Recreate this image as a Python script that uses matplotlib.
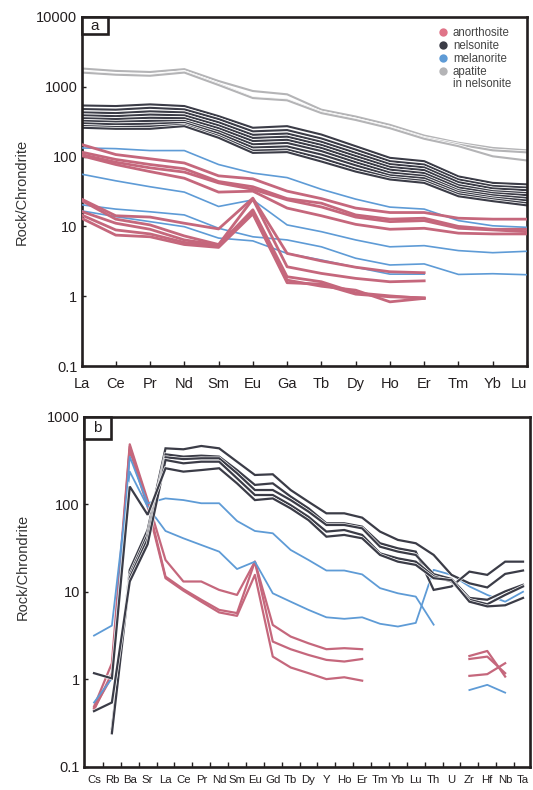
import numpy as np
import matplotlib
matplotlib.use('Agg')
import matplotlib.pyplot as plt
import matplotlib.patheffects as pe
from matplotlib.lines import Line2D
from matplotlib.patches import Rectangle

plt.rcParams['font.family'] = ['Liberation Sans', 'DejaVu Sans']

nan = np.nan

# ---------------- panel a : REE ----------------
ree_a = ['La', 'Ce', 'Pr', 'Nd', 'Sm', 'Eu', 'Ga', 'Tb', 'Dy', 'Ho', 'Er', 'Tm', 'Yb', 'Lu']

apatite_a = [
    [1830, 1690, 1630, 1790, 1210, 870, 780, 470, 375, 285, 200, 158, 133, 123],
    [1630, 1510, 1460, 1630, 1090, 700, 650, 430, 340, 260, 185, 149, 123, 115],
    [1600, 1490, 1440, 1600, 1060, 690, 640, 420, 335, 255, 180, 141, 101, 88],
]

nelsonite_a = [
    [540, 530, 560, 530, 380, 259, 273, 207, 141, 96, 86, 52, 42, 40],
    [480, 470, 500, 475, 345, 230, 240, 182, 126, 86, 77, 47, 38, 36],
    [430, 420, 445, 430, 310, 205, 214, 163, 113, 78, 70, 43, 35, 33],
    [390, 380, 400, 390, 280, 185, 193, 147, 102, 71, 64, 39, 32, 30],
    [355, 345, 360, 355, 255, 167, 174, 133, 92, 65, 58, 36, 30, 28],
    [325, 315, 325, 325, 232, 150, 157, 120, 83, 59, 53, 33, 28, 25.5],
    [300, 290, 295, 305, 215, 135, 140, 107, 75, 54, 49, 31, 26, 23.5],
    [275, 265, 270, 285, 198, 122, 126, 95, 67, 50, 45, 29, 24.5, 21.5],
    [259, 250, 250, 273, 186, 113, 116, 85, 61, 47, 42, 27, 23, 20],
]

melanorite_a = [
    [133, 130, 122, 122, 77, 58, 50, 34, 24.6, 18.9, 17.7, 12.1, 10.2, 9.7],
    [56, 45, 37, 31, 19.3, 24, 10.5, 8.4, 6.4, 5.1, 5.3, 4.5, 4.2, 4.4],
    [20.4, 17.7, 16.2, 14.6, 9.4, 7.1, 6.4, 5.1, 3.5, 2.8, 2.9, 2.05, 2.1, 2.03],
    [16.7, 13.8, 11.7, 9.9, 6.8, 6.2, 4.1, 3.3, 2.6, 2.07, 2.07, nan, nan, nan],
]

anorthosite_a = [
    [149, 107, 93, 81, 53, 48, 32, 25, 18.3, 15.8, 15.8, 13.1, 12.7, 12.7],
    [116, 91, 77, 67, 44, 37, 25, 21.5, 14.6, 12.7, 13.1, 10, 9.1, 9.1],
    [107, 83, 69, 60, 42, 34, 24, 19, 13.6, 11.7, 12.1, 9.4, 8.9, 8.4],
    [103, 77, 61, 49, 31, 32, 18.3, 14.2, 10.7, 9.1, 9.4, 8.0, 7.8, 7.8],
    [24.6, 14.2, 13.6, 11.1, 9.2, 25.4, 4.1, 3.2, 2.6, 2.24, 2.17, nan, nan, nan],
    [23.5, 12.7, 10.5, 7.3, 5.5, 24.6, 2.64, 2.12, 1.80, 1.61, 1.66, nan, nan, nan],
    [16.4, 11.1, 9.1, 6.4, 5.4, 17.3, 1.90, 1.61, 1.12, 1.01, 0.93, nan, nan, nan],
    [14.6, 8.9, 7.8, 5.9, 5.2, 15.8, 1.70, 1.39, 1.22, 0.83, 0.93, nan, nan, nan],
    [13.1, 7.5, 7.1, 5.5, 5.0, 15.1, 1.56, 1.49, 1.07, 0.98, 0.95, nan, nan, nan],
]

# ---------------- panel b : trace elements ----------------
elem_b = ['Cs', 'Rb', 'Ba', 'Sr', 'La', 'Ce', 'Pr', 'Nd', 'Sm', 'Eu', 'Gd', 'Tb', 'Dy',
          'Y', 'Ho', 'Er', 'Tm', 'Yb', 'Lu', 'Th', 'U', 'Zr', 'Hf', 'Nb', 'Ta']

anorthosite_b = [
    [0.485, 1.52, 487, 112, 23.1, 13.1, 13.1, 10.5, 9.2, 22.1, 4.17, 3.07, 2.57, 2.20, 2.26, 2.20,
     nan, nan, nan, nan, nan, 1.84, 2.10, 1.07, nan],
    [0.444, 1.17, 458, 103, 14.9, 10.7, 8.1, 6.2, 5.7, 22.1, 2.69, 2.20, 1.89, 1.66, 1.59, 1.70,
     nan, nan, nan, nan, nan, 1.70, 1.81, 1.17, nan],
    [0.465, 1.07, 419, 94, 14.3, 10.3, 7.7, 5.8, 5.3, 15.6, 1.81, 1.36, 1.17, 1.00, 1.05, 0.96,
     nan, nan, nan, nan, nan, 1.09, 1.14, 1.52, nan],
]

melanorite_b = [
    [0.54, 1.02, 352, 103, 117, 112, 103, 103, 64.6, 49.6, 46.7, 30.1, 23.1, 17.5, 17.5, 15.8,
     11.0, 9.6, 8.8, 4.2, nan, 0.75, 0.86, 0.70, nan],
    [3.15, 4.1, 237, 94, 49.6, 40.9, 34.3, 28.8, 18.2, 22.1, 9.6, 7.7, 6.2, 5.1, 4.9, 5.1,
     4.3, 4.0, 4.4, 17.8, 15.6, 11.5, 9.2, 7.7, 10.0],
]

nelsonite_b = [
    [nan, 0.25, 17.8, 51, 438, 427, 466, 438, 308, 217, 221, 146, 107, 79, 79, 70.5,
     48.8, 39.2, 35.9, 26.4, 15.6, 12.5, 11.2, 16.0, 17.5],
    [nan, 0.27, 15.6, 45, 374, 352, 361, 352, 247, 167, 174, 123, 90, 60.7, 60.7, 55.6,
     35.9, 31.4, 28.8, 10.5, 11.5, 17.0, 15.6, 22.1, 22.1],
    [nan, 0.24, 14.5, 40, 346, 330, 337, 337, 227, 146, 146, 112, 82.6, 58.1, 58.1, 53.2,
     32.8, 28.8, 26.4, 15.9, 14.0, 8.5, 8.1, 10.1, 12.0],
    [0.43, 0.54, 13.1, 35, 322, 295, 308, 308, 199, 128, 128, 98, 72, 48.8, 50.9, 44.7,
     27.5, 24.1, 22.1, 15.0, 13.1, 8.1, 7.2, 9.2, 11.5],
    [1.17, 1.02, 160, 76, 259, 237, 247, 259, 174, 112, 117, 90, 66, 42.7, 44.7, 40.9,
     26.4, 22.1, 20.3, 14.3, 13.6, 7.7, 6.8, 7.0, 8.5],
]

tick_vals_a = [0.1, 1, 10, 100, 1000, 10000]
tick_labs_a = ['0.1', '1', '10', '100', '1000', '10000']
tick_vals_b = [0.1, 1, 10, 100, 1000]
tick_labs_b = ['0.1', '1', '10', '100', '1000']

legend_names = ['anorthosite', 'nelsonite', 'melanorite', 'apatite', 'in nelsonite']

# ---------------- styles ----------------
C_RED = '#c5677c'
C_RED_LEG = '#e07488'
C_BLK = '#3b3c47'
C_BLUE = '#5e9bd6'
C_GRAY = '#b4b4b6'
C_SPINE = '#231f20'

W, H = 533, 790
fig = plt.figure(figsize=(W / 100, H / 100), dpi=100)

def px_axes(l, t, r, b):
    return fig.add_axes([l / W, 1 - b / H, (r - l) / W, (b - t) / H])

ax1 = px_axes(81.5, 17, 527, 366)
ax2 = px_axes(84, 417, 530, 766.5)

white_edge = [pe.Stroke(linewidth=2.6, foreground='white'), pe.Normal()]

xa = np.arange(len(ree_a))
for s in apatite_a:
    ax1.plot(xa, s, color=C_GRAY, lw=1.5, solid_joinstyle='miter', path_effects=white_edge, zorder=2)
for s in nelsonite_a:
    ax1.plot(xa, s, color=C_BLK, lw=1.5, solid_joinstyle='miter', path_effects=white_edge, zorder=2)
for s in melanorite_a:
    ax1.plot(xa, s, color=C_BLUE, lw=1.2, zorder=3)
for s in anorthosite_a:
    ax1.plot(xa, s, color=C_RED, lw=2.0, zorder=4)

xb = np.arange(len(elem_b))
for s in anorthosite_b:
    ax2.plot(xb, s, color=C_RED, lw=1.6, zorder=2)
for s in melanorite_b:
    ax2.plot(xb, s, color=C_BLUE, lw=1.3, zorder=3)
for s in nelsonite_b:
    ax2.plot(xb, s, color=C_BLK, lw=1.6, solid_joinstyle='miter',
             path_effects=[pe.Stroke(linewidth=2.5, foreground='white'), pe.Normal()], zorder=4)

for ax in (ax1, ax2):
    ax.set_yscale('log')
    for sp in ax.spines.values():
        sp.set_linewidth(1.9)
        sp.set_color(C_SPINE)
    ax.minorticks_off()

ax1.set_xlim(0, len(ree_a) - 1)
ax1.set_ylim(0.1, 10000)
ax1.set_yticks(tick_vals_a)
ax1.set_yticklabels(tick_labs_a)
ax1.set_xticks(xa)
ax1.set_xticklabels(ree_a)
ax1.tick_params(axis='x', direction='in', length=3.5, width=1, pad=8, labelsize=10.5, colors=C_SPINE)
ax1.tick_params(axis='y', direction='in', length=3, width=1, pad=3, labelsize=10.5, colors=C_SPINE)
ax1.get_xticklabels()[-1].set_horizontalalignment('right')

ax2.set_xlim(-0.56, len(elem_b) - 1 + 0.39)
ax2.set_ylim(0.1, 1000)
ax2.set_yticks(tick_vals_b)
ax2.set_yticklabels(tick_labs_b)
ax2.set_xticks(xb)
ax2.set_xticklabels(elem_b)
ax2.set_xticks(xb[:-1] + 0.5, minor=True)
ax2.tick_params(axis='x', which='major', length=0, pad=6, labelsize=8.2, colors=C_SPINE)
ax2.tick_params(axis='x', which='minor', direction='in', length=3.5, width=1, colors=C_SPINE)
ax2.tick_params(axis='y', which='minor', length=0)
ax2.tick_params(axis='y', direction='in', length=3, width=1, pad=3, labelsize=10.5, colors=C_SPINE)

fig.text(22 / W, 1 - 192 / H, 'Rock/Chrondrite', rotation=90, ha='center', va='center',
         fontsize=10.5, color='#333333')
fig.text(23 / W, 1 - 567 / H, 'Rock/Chrondrite', rotation=90, ha='center', va='center',
         fontsize=10.5, color='#333333')

# panel letters
def letter_box(ax, l, t, r, b, txt):
    x0, x1 = ax.get_position().x0 * W, ax.get_position().x1 * W
    y1 = (1 - ax.get_position().y1) * H
    y0 = (1 - ax.get_position().y0) * H
    fx = lambda v: (v - x0) / (x1 - x0)
    fy = lambda v: (y0 - v) / (y0 - y1)
    ax.add_patch(Rectangle((fx(l), fy(b)), fx(r) - fx(l), fy(t) - fy(b), transform=ax.transAxes,
                           facecolor='white', edgecolor=C_SPINE, lw=1.9, zorder=10, clip_on=False))
    ax.text(fx((l + r) / 2), fy((t + b) / 2), txt, transform=ax.transAxes, ha='center', va='center',
            fontsize=11, color=C_SPINE, zorder=11)

letter_box(ax1, 81.5, 17, 108, 34, 'a')
letter_box(ax2, 84, 417, 110.5, 439, 'b')

# legend
handles = [Line2D([], [], marker='o', ls='', color=c, markersize=6, markeredgewidth=0)
           for c in (C_RED_LEG, C_BLK, C_BLUE, C_GRAY)]
handles.append(Line2D([], [], marker='', ls=''))
leg = ax1.legend(handles, legend_names, loc='upper left',
                 bbox_to_anchor=((438.5 - 81.5) / (527 - 81.5), 1 - (27.5 - 17) / (366 - 17)),
                 frameon=False, fontsize=8.3, handlelength=0.75, handletextpad=0.5,
                 labelspacing=0.06, borderpad=0, borderaxespad=0)
for t in leg.get_texts():
    t.set_color('#444444')

fig.savefig('out.png', dpi=100)
